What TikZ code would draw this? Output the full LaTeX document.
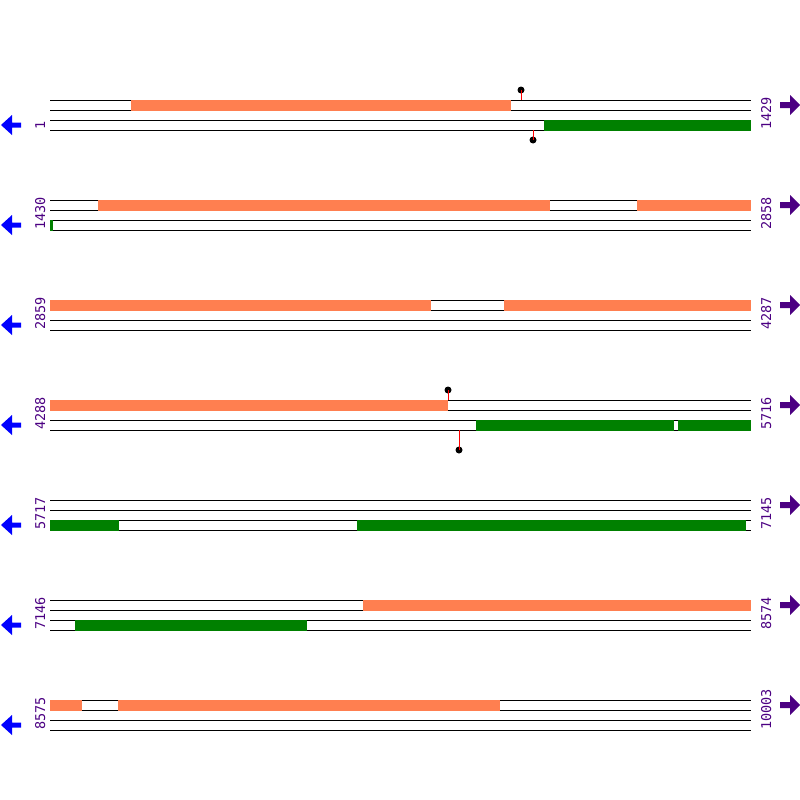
\documentclass[tikz,border=0pt]{standalone}
\usepackage{fontspec}
\setmonofont{DejaVu Sans Mono}
\usetikzlibrary{positioning}
\definecolor{fwd}{RGB}{255,127,80}
\definecolor{rev}{RGB}{0,128,0}
\definecolor{pos}{RGB}{75,0,130}

\begin{document}
\begin{tikzpicture}[x=1pt, y=-1pt,
  track/.style={line width=1pt, black},
  fwdbar/.style={fill=fwd},
  revbar/.style={fill=rev},
  numlbl/.style={font=\ttfamily\fontsize{13.5}{13.5}\selectfont, text=pos, rotate=90, anchor=base west, inner sep=0pt},
  leftarr/.style={fill=blue},
  rightarr/.style={fill=pos},
  stem/.style={line width=1pt, red},
  head/.style={circle, fill=black, inner sep=0pt, minimum size=7pt}]
\useasboundingbox (0,0) rectangle (800,800);
% rows: lines, position labels, strand arrows
\foreach \r/\s/\e [count=\i] in {100/1/1429, 200/1430/2858, 300/2859/4287, 400/4288/5716, 500/5717/7145, 600/7146/8574, 700/8575/10003} {
  \foreach \d in {0,10,20,30}
    \draw[track] (50,\r+\d) -- (751,\r+\d);
  \node[numlbl] (s\i) at (45,\r+30) {\s};
  \node[numlbl] (e\i) at (771,\r+30) {\e};
  \fill[leftarr] (1,\r+25) -- (12,\r+15) -- (12,\r+22.5) -- (21,\r+22.5) -- (21,\r+27.5) -- (12,\r+27.5) -- (12,\r+35) -- cycle;
  \fill[rightarr] (800,\r+5) -- (790,\r-5) -- (790,\r+2) -- (780,\r+2) -- (780,\r+8) -- (790,\r+8) -- (790,\r+15) -- cycle;
}
% row 1
\fill[fwdbar] (131,99.5) rectangle (511,110.5);
\fill[revbar] (544,119.5) rectangle (751,130.5);
\coordinate (t1) at (521,100);
\node[head] (h1) at (521,90) {};
\draw[stem] (t1) -- (h1.center);
\coordinate (t2) at (533,130);
\node[head] (h2) at (533,140) {};
\draw[stem] (t2) -- (h2.center);
% row 2
\fill[fwdbar] (98,199.5) rectangle (550,210.5);
\fill[fwdbar] (637,199.5) rectangle (751,210.5);
\fill[revbar] (50,219.5) rectangle (53,230.5);
% row 3
\fill[fwdbar] (50,299.5) rectangle (431,310.5);
\fill[fwdbar] (504,299.5) rectangle (751,310.5);
% row 4
\fill[fwdbar] (50,399.5) rectangle (448,410.5);
\fill[revbar] (476,419.5) rectangle (674,430.5);
\fill[revbar] (678,419.5) rectangle (751,430.5);
\coordinate (t3) at (448,400);
\node[head] (h3) at (448,390) {};
\draw[stem] (t3) -- (h3.center);
\coordinate (t4) at (459,430);
\node[head] (h4) at (459,450) {};
\draw[stem] (t4) -- (h4.center);
% row 5
\fill[revbar] (50,519.5) rectangle (119,530.5);
\fill[revbar] (357,519.5) rectangle (746,530.5);
% row 6
\fill[fwdbar] (363,599.5) rectangle (751,610.5);
\fill[revbar] (75,619.5) rectangle (307,630.5);
% row 7
\fill[fwdbar] (50,699.5) rectangle (82,710.5);
\fill[fwdbar] (118,699.5) rectangle (500,710.5);
\end{tikzpicture}
\end{document}
